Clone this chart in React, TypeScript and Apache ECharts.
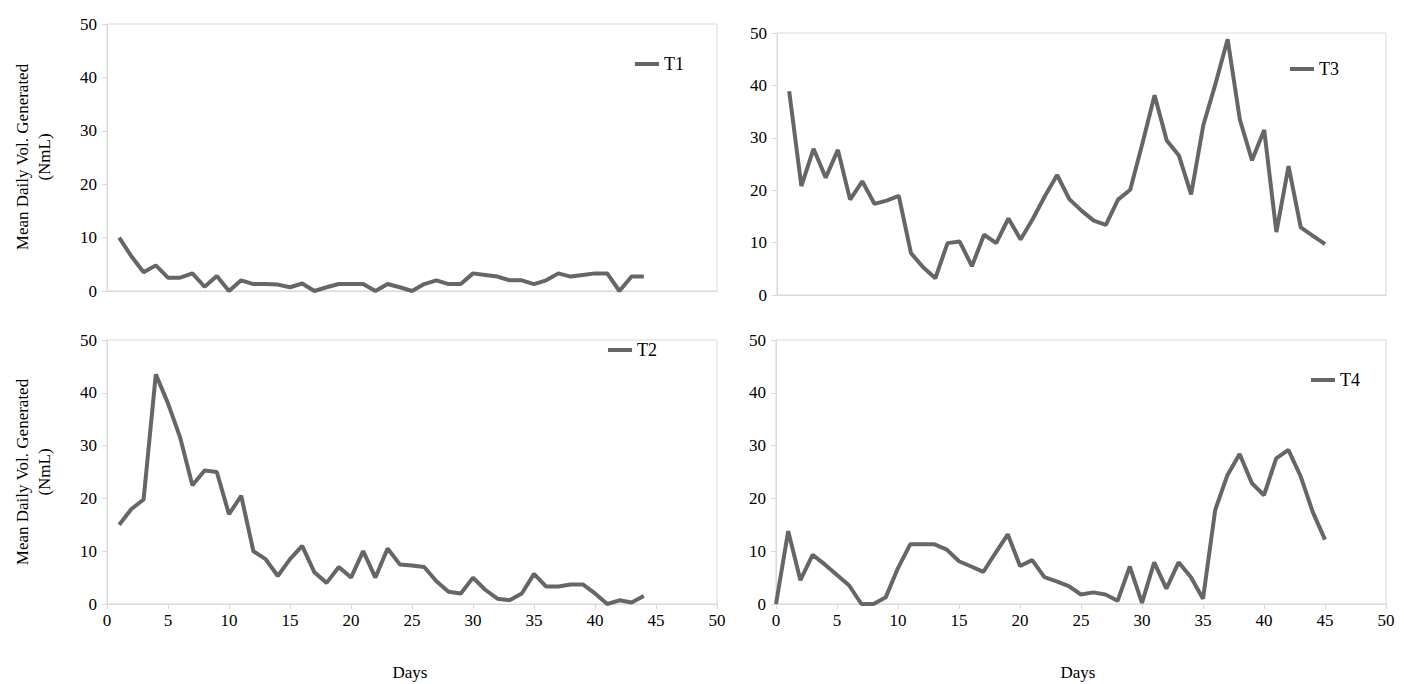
import { useRef, useEffect } from "react";
import * as echarts from "echarts";

const t1 = [10, 6.5, 3.5, 4.8, 2.5, 2.5, 3.3, 0.8, 2.8, 0, 2, 1.3, 1.3, 1.2, 0.7, 1.4, 0, 0.7, 1.3, 1.3, 1.3, 0, 1.3, 0.7, 0, 1.3, 2, 1.3, 1.3, 3.3, 3, 2.7, 2, 2, 1.3, 2, 3.3, 2.7, 3, 3.3, 3.3, 0, 2.7, 2.7];
const t2 = [15, 18, 19.8, 43.5, 38, 31.5, 22.5, 25.3, 25, 17, 20.5, 10, 8.5, 5.3, 8.5, 11, 6, 4, 7, 5, 10, 5, 10.5, 7.5, 7.3, 7, 4.3, 2.3, 2, 5, 2.7, 1, 0.7, 2, 5.7, 3.3, 3.3, 3.7, 3.7, 2, 0, 0.7, 0.3, 1.5];
const t3 = [38.9, 20.8, 27.9, 22.4, 27.7, 18.2, 21.7, 17.4, 18, 18.9, 8, 5.3, 3.2, 9.9, 10.2, 5.5, 11.5, 9.9, 14.6, 10.6, 14.5, 18.9, 22.9, 18.3, 16.1, 14.2, 13.4, 18.2, 20.1, 28.9, 38.1, 29.5, 26.6, 19.2, 32.4, 40.3, 48.8, 33.5, 25.7, 31.5, 12, 24.6, 12.9, 11.3, 9.7];
const t4 = [0, 13.8, 4.5, 9.3, 7.5, 5.5, 3.5, 0, 0, 1.3, 6.8, 11.3, 11.3, 11.3, 10.3, 8.1, 7.1, 6.1, 9.7, 13.2, 7.2, 8.3, 5.1, 4.3, 3.4, 1.8, 2.2, 1.8, 0.6, 7.1, 0.2, 7.9, 2.9, 7.9, 5.1, 1, 17.8, 24.4, 28.4, 22.9, 20.6, 27.6, 29.2, 24.2, 17.4, 12.2];

const font = "Liberation Serif";
const gray = "#d9d9d9";
const lineColor = "#666666";

const toPairs = (vals: number[], start: number) => vals.map((v, i) => [start + i, v]);

export default function App() {
  const ref = useRef<HTMLDivElement>(null);
  useEffect(() => {
    const chart = echarts.init(ref.current, null, { renderer: "svg" });
    const grids = [
      { left: 107, top: 24, width: 610, height: 267 },
      { left: 777, top: 33, width: 609, height: 262 },
      { left: 107, top: 340, width: 610, height: 264 },
      { left: 776, top: 340, width: 610, height: 264 },
    ];
    const names = ["T1", "T3", "T2", "T4"];
    const data = [toPairs(t1, 1), toPairs(t3, 1), toPairs(t2, 1), toPairs(t4, 0)];
    const legendPos = [
      { left: 630, top: 50 },
      { left: 1285, top: 55 },
      { left: 603, top: 336 },
      { left: 1306, top: 366 },
    ];
    chart.setOption({
      animation: false,
      grid: grids.map((g) => ({ ...g, show: true, borderColor: gray, borderWidth: 1 })),
      xAxis: grids.map((_, i) => ({
        type: "value",
        gridIndex: i,
        min: 0,
        max: 50,
        interval: 5,
        axisLine: { lineStyle: { color: gray } },
        axisTick: { show: i >= 2, length: 5, lineStyle: { color: gray } },
        axisLabel: { show: i >= 2, fontFamily: font, fontSize: 17, color: "#000", margin: 8 },
        splitLine: { show: false },
      })),
      yAxis: grids.map((_, i) => ({
        type: "value",
        gridIndex: i,
        min: 0,
        max: 50,
        interval: 10,
        axisLine: { show: true, lineStyle: { color: gray } },
        axisTick: { show: true, length: 5, lineStyle: { color: gray } },
        axisLabel: { fontFamily: font, fontSize: 17, color: "#000", margin: 10 },
        splitLine: { show: false },
      })),
      legend: names.map((n, i) => ({
        data: [n],
        ...legendPos[i],
        icon: "rect",
        itemWidth: 24,
        itemHeight: 4,
        itemGap: 2,
        textStyle: { fontFamily: font, fontSize: 18, color: "#000" },
      })),
      series: names.map((n, i) => ({
        name: n,
        type: "line",
        xAxisIndex: i,
        yAxisIndex: i,
        data: data[i],
        showSymbol: false,
        lineStyle: { color: lineColor, width: 4 },
        itemStyle: { color: lineColor },
      })),
      graphic: [
        { type: "text", x: 410, y: 672, style: { text: "Days", font: `17px "${font}"`, fill: "#000", align: "center", verticalAlign: "middle" } },
        { type: "text", x: 1078, y: 672, style: { text: "Days", font: `17px "${font}"`, fill: "#000", align: "center", verticalAlign: "middle" } },
        ...[157, 472].map((cy) => ({
          type: "text",
          x: 33,
          y: cy,
          rotation: Math.PI / 2,
          style: { text: "Mean Daily Vol. Generated\n(NmL)", font: `17px "${font}"`, fill: "#000", align: "center", verticalAlign: "middle", lineHeight: 22 },
        })),
      ],
    });
    return () => chart.dispose();
  }, []);
  return <div ref={ref} style={{ position: "absolute", left: 0, top: 0, width: 1404, height: 684, background: "#fff" }} />;
}
